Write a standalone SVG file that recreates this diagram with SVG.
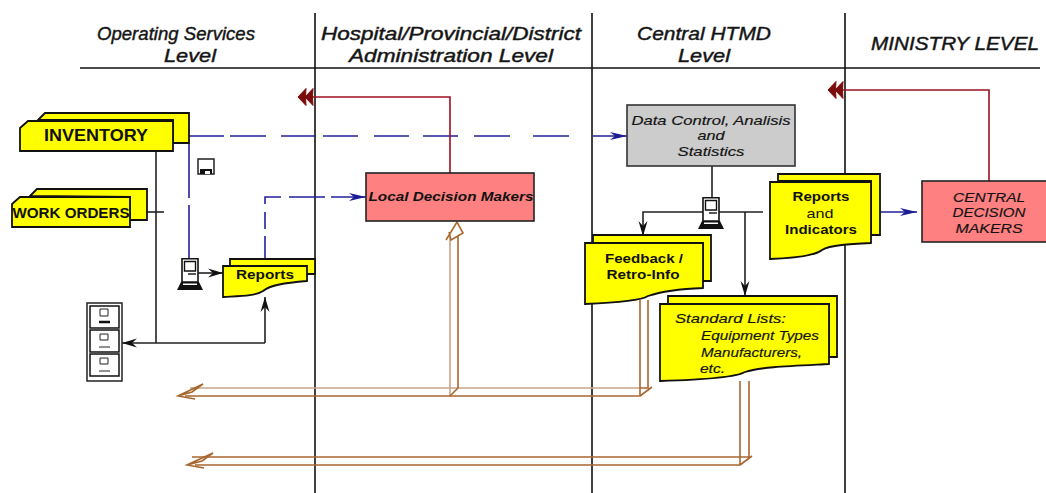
<svg xmlns="http://www.w3.org/2000/svg" width="1046" height="493" viewBox="0 0 1046 493">
<style>
text{font-family:"Liberation Sans",Arial,sans-serif;fill:#111;text-anchor:middle}
.h{font-size:18.5px;font-style:italic;stroke:#222;stroke-width:.45px}
.b{font-size:13.5px;font-weight:bold}
.i{font-size:13.5px;font-style:italic;stroke:#222;stroke-width:.2px}
.st{text-anchor:start}
.y{fill:#ff0;stroke:#111;stroke-width:1.8}
.div{stroke:#111;stroke-width:1.6;fill:none}
.k{stroke:#222;stroke-width:1.6;fill:none}
.blue{stroke:#22229a;stroke-width:1.6;fill:none}
.red{stroke:#9c1020;stroke-width:1.6;fill:none}
.mar{fill:#7a0c0c;stroke:#7a0c0c}
.br{stroke:#a8672f;stroke-width:1.6;fill:none}
.brl{stroke:#c9a58a;stroke-width:1.6;fill:none}
</style>
<defs>
<marker id="ak" markerUnits="userSpaceOnUse" markerWidth="16" markerHeight="12" refX="15" refY="6" orient="auto"><path d="M0,1.5 L15,6 L0,10.5 L5,6Z" fill="#111"/></marker>
<marker id="ab" markerUnits="userSpaceOnUse" markerWidth="18" markerHeight="12" refX="17" refY="6" orient="auto"><path d="M0,2 L17,6 L0,10 L5,6Z" fill="#1c1c94"/></marker>
<symbol id="pc" viewBox="0 0 26 32" overflow="visible">
<path d="M5,0.8H21V24H5Z" fill="#fff" stroke="#111" stroke-width="1.6"/>
<path d="M7.5,3.5H18.5V13H7.5Z" fill="#fff" stroke="#111" stroke-width="1.4"/>
<path d="M11,16H19" stroke="#111" stroke-width="1.4"/>
<path d="M4,24H22L26,32H0Z" fill="#111"/>
<path d="M6,25.5H20V27H6Z" fill="#fff"/>
</symbol>
</defs>
<g id="dividers">
<path class="div" d="M315,13V493M592,13V493M845,13V493"/>
<path class="div" d="M80,68H1040"/>
</g>
<g id="headers">
<text class="h" x="176" y="40" textLength="158" lengthAdjust="spacingAndGlyphs">Operating Services</text>
<text class="h" x="190" y="62" textLength="52" lengthAdjust="spacingAndGlyphs">Level</text>
<text class="h" x="451" y="40" textLength="260" lengthAdjust="spacingAndGlyphs">Hospital/Provincial/District</text>
<text class="h" x="451" y="62" textLength="204" lengthAdjust="spacingAndGlyphs">Administration Level</text>
<text class="h" x="704" y="40" textLength="134" lengthAdjust="spacingAndGlyphs">Central HTMD</text>
<text class="h" x="704" y="62" textLength="52" lengthAdjust="spacingAndGlyphs">Level</text>
<text class="h" x="955" y="50" textLength="168" lengthAdjust="spacingAndGlyphs">MINISTRY LEVEL</text>
</g>
<g id="connectors">
<path class="k" d="M156,151V343"/>
<path class="k" d="M147,212H164"/>
<path class="k" marker-end="url(#ak)" d="M265,343H122"/>
<path class="k" marker-end="url(#ak)" d="M265,343V297"/>
<path class="k" marker-end="url(#ak)" d="M192,273H223"/>
<path class="k" d="M712,166V198"/>
<path class="k" marker-end="url(#ak)" d="M763,212H643V236"/>
<path class="k" marker-end="url(#ak)" d="M745,212V296"/>
<path class="blue" d="M189,136H224M230,136H266M281,136H316M323,136H358M374,136H409M423,136H458M474,136H510M533,136H569"/>
<path class="blue" marker-end="url(#ab)" d="M593,136H627"/>
<path class="blue" d="M189,143V198M189,205V258"/>
<path class="blue" d="M265,258V236M265,229V212M265,204V197H281M289,197H325"/>
<path class="blue" marker-end="url(#ab)" d="M331,197H366"/>
<path class="blue" marker-end="url(#ab)" d="M880,212H917"/>
<path class="red" d="M450,173V97H312"/>
<path class="mar" d="M298,97L306,88.500L305.500,97L306,105.500ZM305,97L313,88.500L312.500,97L313,105.500Z"/>
<path class="red" d="M989,181V90H842"/>
<path class="mar" d="M828,90L836,81.500L835.500,90L836,98.500ZM835,90L843,81.500L842.500,90L843,98.500Z"/>
<path class="brl" d="M190,388H640M450,396V236"/>
<path class="br" d="M458,388V236M450,396L458,388"/>
<path class="br" d="M185,396H640V300M648,300V388H640M640,396L652,387"/>
<path class="br" d="M446,240L457,222L463,233L451,240L449,232"/>
<path class="br" stroke-width="2" d="M195,399L178,396L203,384L192,392L178,396"/>
<path class="br" d="M192,457H749V381M740,381V465H195M740,465L752,456"/>
<path class="br" stroke-width="2" d="M204,468L187,465L213,453L202,461L187,465"/>
</g>
<g id="inventory">
<path class="y" stroke-width="1.4" d="M38,120L45,113H189V143H173V120Z"/>
<path class="y" d="M20,128L28,121H173V151H20Z"/>
<text x="96" y="141" textLength="104" lengthAdjust="spacingAndGlyphs" style="font-size:16.5px;font-weight:bold">INVENTORY</text>
</g>
<g id="work-orders">
<path class="y" stroke-width="1.4" d="M30,196L37,189H147V220H130V197Z"/>
<path class="y" stroke-width="1.6" d="M12,204L20,197H130V227H12Z"/>
<text x="71" y="218" textLength="117" lengthAdjust="spacingAndGlyphs" style="font-size:14.500px;font-weight:bold">WORK ORDERS</text>
</g>
<g id="disk">
<path d="M198,159H214V174H198Z" fill="#fff" stroke="#222" stroke-width="1.5"/>
<path d="M200,174V169H212V174Z" fill="#111"/>
<path d="M205,171H210V174H205Z" fill="#fff"/>
</g>
<g id="computer-1"><use href="#pc" x="177" y="258" width="26" height="32"/></g>
<g id="reports">
<path class="y" stroke-width="1.6" d="M230,274V259H315V274Z"/>
<path class="y" stroke-width="1.6" d="M223,266H307V281C285,283 270,285 263,291C256,296 240,296 223,297Z"/>
<text class="b" x="265" y="279" textLength="58" lengthAdjust="spacingAndGlyphs">Reports</text>
</g>
<g id="file-cabinet">
<path d="M87,303H122V381H87Z" fill="#fff" stroke="#222" stroke-width="1.5"/>
<path d="M90,306H119V328H90ZM90,330H119V352H90ZM90,354H119V376H90Z" fill="#fff" stroke="#111" stroke-width="1.5"/>
<path d="M100,309H108V316H100ZM100,334H108V340H100ZM100,358H108V364H100Z" fill="#fff" stroke="#222" stroke-width="1"/>
<path d="M99,322H110" stroke="#111" stroke-width="2.5"/>
<path d="M99,347H110M99,371H110" stroke="#222" stroke-width="1"/>
</g>
<g id="local-decision-makers">
<rect x="366" y="173" width="168" height="48" fill="#ff8080" stroke="#222" stroke-width="1.6"/>
<text x="451" y="201" textLength="165" lengthAdjust="spacingAndGlyphs" style="font-size:13.500px;font-style:italic;font-weight:bold">Local Decision Makers</text>
</g>
<g id="data-control">
<rect x="627" y="105" width="168" height="61" fill="#ccc" stroke="#333" stroke-width="1.6"/>
<text class="i" x="711" y="125" textLength="159" lengthAdjust="spacingAndGlyphs">Data Control, Analisis</text>
<text class="i" x="711" y="140" textLength="27" lengthAdjust="spacingAndGlyphs">and</text>
<text class="i" x="711" y="156" textLength="67" lengthAdjust="spacingAndGlyphs">Statistics</text>
</g>
<g id="computer-2"><use href="#pc" x="698" y="197" width="26" height="32"/></g>
<g id="feedback">
<path class="y" stroke-width="1.6" d="M593,243V235H711V281H703V243Z"/>
<path class="y" stroke-width="1.6" d="M585,243H703V288C680,289 660,292 648,296C640,301 610,303 585,304Z"/>
<text class="b" x="644" y="263" textLength="78" lengthAdjust="spacingAndGlyphs">Feedback /</text>
<text class="b" x="643" y="279" textLength="73" lengthAdjust="spacingAndGlyphs">Retro-Info</text>
</g>
<g id="standard-lists">
<path class="y" stroke-width="1.6" d="M668,304V296H837V357H829V304Z"/>
<path class="y" stroke-width="1.6" d="M660,304H829V364C790,366 760,367 745,372C735,378 695,380 660,381Z"/>
<text class="i st" x="675" y="323" textLength="111" lengthAdjust="spacingAndGlyphs">Standard Lists:</text>
<text class="i st" x="701" y="340" textLength="118" lengthAdjust="spacingAndGlyphs">Equipment Types</text>
<text class="i st" x="701" y="357" textLength="101" lengthAdjust="spacingAndGlyphs">Manufacturers,</text>
<text class="i st" x="700" y="373" textLength="25" lengthAdjust="spacingAndGlyphs">etc.</text>
</g>
<g id="reports-indicators">
<path class="y" stroke-width="1.6" d="M778,181V174H880V235H871V181Z"/>
<path class="y" stroke-width="1.6" d="M770,182H871V243C850,244 830,245 822,250C815,256 795,258 770,259Z"/>
<text class="b" x="821" y="201" textLength="57" lengthAdjust="spacingAndGlyphs">Reports</text>
<text x="820" y="218" textLength="27" lengthAdjust="spacingAndGlyphs" style="font-size:13.500px">and</text>
<text class="b" x="821" y="234" textLength="72" lengthAdjust="spacingAndGlyphs">Indicators</text>
</g>
<g id="central-decision-makers">
<rect x="922" y="181" width="134" height="61" fill="#ff8080" stroke="#222" stroke-width="1.6"/>
<text class="i" x="989" y="202" textLength="72" lengthAdjust="spacingAndGlyphs">CENTRAL</text>
<text class="i" x="989" y="217" textLength="73" lengthAdjust="spacingAndGlyphs">DECISION</text>
<text class="i" x="989" y="233" textLength="67" lengthAdjust="spacingAndGlyphs">MAKERS</text>
</g>
</svg>
